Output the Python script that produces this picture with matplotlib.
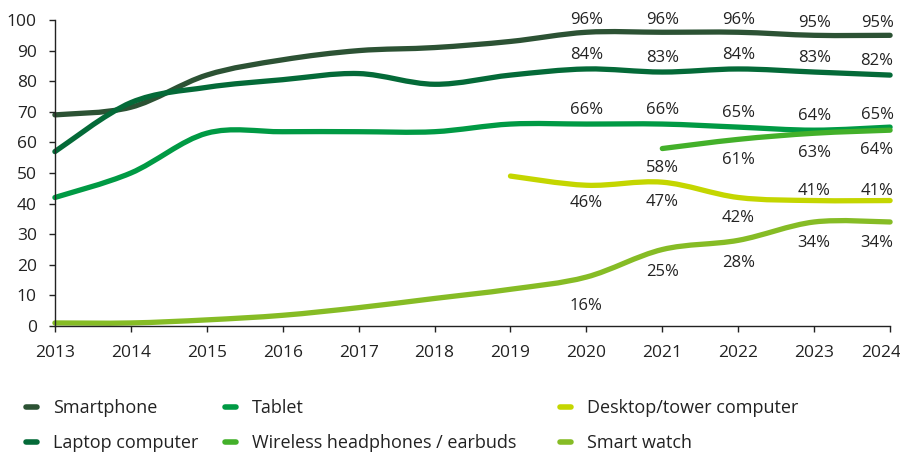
import numpy as np
import matplotlib

matplotlib.use("Agg")
import matplotlib.pyplot as plt
from matplotlib.path import Path
from matplotlib.patches import PathPatch
from matplotlib.lines import Line2D
from matplotlib.transforms import ScaledTranslation

plt.rcParams["font.family"] = ["Open Sans", "DejaVu Sans"]

years = [2013, 2014, 2015, 2016, 2017, 2018, 2019, 2020, 2021, 2022, 2023, 2024]

smartphone = [69, 71.5, 82, 87, 90, 91, 93, 96, 96, 96, 95, 95]
laptop = [57, 73, 78, 80.5, 82.5, 79, 82, 84, 83, 84, 83, 82]
tablet = [42, 50, 63, 63.5, 63.5, 63.5, 66, 66, 66, 65, 64, 65]
headphones_years = [2021, 2022, 2023, 2024]
headphones = [58, 61, 63, 64]
desktop_years = [2019, 2020, 2021, 2022, 2023, 2024]
desktop = [49, 46, 47, 42, 41, 41]
smartwatch = [1, 1, 2, 3.5, 6, 9, 12, 16, 25, 28, 34, 34]

LABEL_FROM = 2020
TEXT = "#222222"

# (name, x, y, colour, label offsets in points for years >= LABEL_FROM)
series = [
    ("Smartphone", years, smartphone, "#2C5234", [9] * 5),
    ("Laptop computer", years, laptop, "#046A38", [10] * 5),
    ("Tablet", years, tablet, "#009A44", [10, 10, 10, 10, 9]),
    ("Wireless headphones / earbuds", headphones_years, headphones, "#43B02A", [-14, -15, -14, -14]),
    ("Desktop/tower computer", desktop_years, desktop, "#C4D600", [-13, -14, -15, 7, 7]),
    ("Smart watch", years, smartwatch, "#86BC25", [-21, -16, -16, -15, -15]),
]


def smooth_path(x, y):
    # Excel-like smoothed line: cubic Bezier through each point
    pts = np.column_stack([x, y]).astype(float)
    n = len(pts)
    verts = [pts[0]]
    codes = [Path.MOVETO]
    for i in range(n - 1):
        p0 = pts[i - 1] if i > 0 else pts[i]
        p1 = pts[i]
        p2 = pts[i + 1]
        p3 = pts[i + 2] if i + 2 < n else pts[i + 1]
        c1 = p1 + (p2 - p0) / 6
        c2 = p2 - (p3 - p1) / 6
        verts += [c1, c2, p2]
        codes += [Path.CURVE4] * 3
    return Path(verts, codes)


fig = plt.figure(figsize=(9, 4.55), dpi=100)
ax = fig.add_axes([0.061, 0.2835, 0.928, 0.6725])

for name, x, y, color, offs in series:
    patch = PathPatch(smooth_path(x, y), facecolor="none", edgecolor=color,
                      lw=3.8, capstyle="round", joinstyle="round", clip_on=False)
    ax.add_patch(patch)
    lab = [(xi, yi) for xi, yi in zip(x, y) if xi >= LABEL_FROM]
    for (xi, yi), off in zip(lab, offs):
        ha, dx = "center", 0
        if xi == years[-1]:
            ha, dx = "right", 2.5
        ax.annotate(f"{yi:.0f}%", (xi, yi), xytext=(dx, off), textcoords="offset points",
                    ha=ha, va="center", fontsize=12, color=TEXT)

ax.set_xlim(2013, 2024)
ax.set_ylim(0, 100)
ax.set_xticks(years)
ax.set_yticks(range(0, 101, 10))
for s in ["top", "right"]:
    ax.spines[s].set_visible(False)
for s in ["left", "bottom"]:
    ax.spines[s].set_color(TEXT)
    ax.spines[s].set_linewidth(1.0)
ax.tick_params(axis="both", labelsize=12.5, colors=TEXT, length=4, width=1)
ax.tick_params(axis="x", pad=10)
ax.tick_params(axis="y", pad=9)

# keep the last year label inside the figure
last = ax.get_xticklabels()[-1]
last.set_ha("right")
last.set_transform(last.get_transform() + ScaledTranslation(0.11, 0, fig.dpi_scale_trans))

# legend in three columns: top row Smartphone / Tablet / Desktop
cols = [[0, 1], [2, 3], [4, 5]]
col_x = [25.5, 224.5, 559.5]
for idx, cx in zip(cols, col_x):
    handles = [Line2D([], [], color=series[i][3], lw=4, solid_capstyle="round") for i in idx]
    labels = [series[i][0] for i in idx]
    fig.legend(handles, labels, loc="center left", bbox_to_anchor=(cx / 900, 0.064),
               frameon=False, fontsize=13, handlelength=0.65, handletextpad=0.85,
               labelspacing=0.95, borderpad=0, borderaxespad=0, labelcolor=TEXT)

fig.savefig("out.png", dpi=100)
